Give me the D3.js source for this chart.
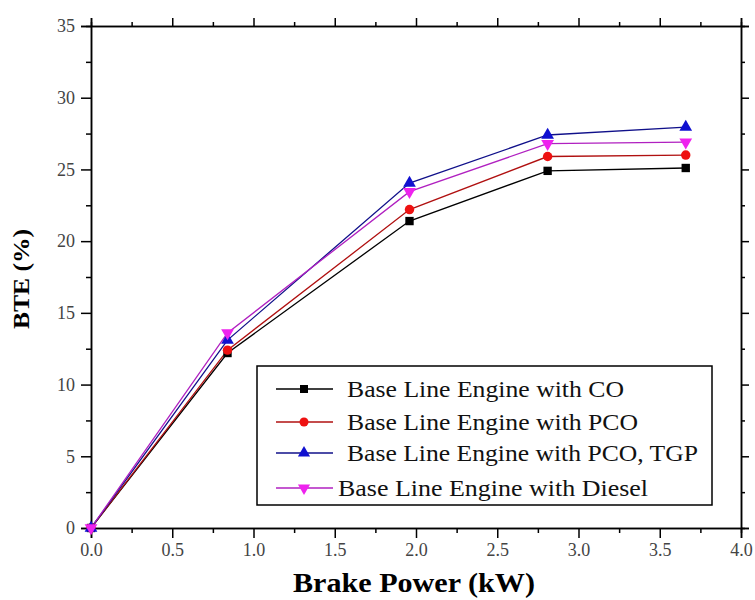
<!DOCTYPE html>
<html><head><meta charset="utf-8">
<script src="https://cdn.jsdelivr.net/npm/d3@7"></script>
<style>body{margin:0;background:#fff}svg{display:block}text{font-family:"Liberation Serif","Times New Roman",serif}</style>
</head><body>
<svg id="c" width="755" height="600"></svg>
<script>
const power = [0, 0.84, 1.96, 2.81, 3.66];
const bteCO = [0, 12.2, 21.4, 24.9, 25.1];
const btePCO = [0, 12.4, 22.2, 25.9, 26.0];
const btePCOTGP = [0, 13.1, 24.05, 27.4, 27.95];
const bteDiesel = [0, 13.6, 23.45, 26.8, 26.9];
const seriesNames = ["Base Line Engine with CO","Base Line Engine with PCO","Base Line Engine with PCO, TGP","Base Line Engine with Diesel"];
const xTicks = [0,0.5,1,1.5,2,2.5,3,3.5,4];
const yTicks = [0,5,10,15,20,25,30,35];

const colors = ["#000000","#ee1111","#1010d0","#ee22ee"];
const lineColors = ["#000000","#b01010","#10108a","#b020c0"];
const symbols = [d3.symbolSquare, d3.symbolCircle, d3.symbolTriangle, d3.symbolTriangle];
const values = [bteCO, btePCO, btePCOTGP, bteDiesel];

const svg = d3.select("#c");
const L=91,R=741,T=26,B=528;
const x = d3.scaleLinear().domain([0,4]).range([L,R]);
const y = d3.scaleLinear().domain([0,35]).range([B,T]);

const minorX = d3.range(0.25,4,0.5);
const minorY = d3.range(2.5,35,5);

function styleAxis(g){g.selectAll("path.domain").attr("stroke","#000").attr("stroke-width",1.5);
  g.selectAll(".tick line").attr("stroke","#000").attr("stroke-width",1.5);}

// bottom
const gb = svg.append("g").attr("transform",`translate(0,${B})`)
  .call(d3.axisBottom(x).tickValues(xTicks).tickSize(10).tickFormat(d3.format(".1f")).tickPadding(5));
gb.selectAll("text").attr("font-family",null).attr("font-size",18).attr("fill","#444");
styleAxis(gb);
const gbm = svg.append("g").attr("transform",`translate(0,${B})`)
  .call(d3.axisBottom(x).tickValues(minorX).tickSize(5).tickFormat(""));
styleAxis(gbm);
// left
const gl = svg.append("g").attr("transform",`translate(${L},0)`)
  .call(d3.axisLeft(y).tickValues(yTicks).tickSize(10).tickPadding(6));
gl.selectAll("text").attr("font-family",null).attr("font-size",18).attr("fill","#444");
styleAxis(gl);
const glm = svg.append("g").attr("transform",`translate(${L},0)`)
  .call(d3.axisLeft(y).tickValues(minorY).tickSize(5).tickFormat(""));
styleAxis(glm);
// top
const gt = svg.append("g").attr("transform",`translate(0,${T})`)
  .call(d3.axisTop(x).tickValues(xTicks).tickSize(8).tickFormat(""));
styleAxis(gt);
const gtm = svg.append("g").attr("transform",`translate(0,${T})`)
  .call(d3.axisTop(x).tickValues(minorX).tickSize(4).tickFormat(""));
styleAxis(gtm);
// right
const gr = svg.append("g").attr("transform",`translate(${R},0)`)
  .call(d3.axisRight(y).tickValues(yTicks).tickSize(8).tickFormat(""));
styleAxis(gr);
const grm = svg.append("g").attr("transform",`translate(${R},0)`)
  .call(d3.axisRight(y).tickValues(minorY).tickSize(4).tickFormat(""));
styleAxis(grm);

// lines
const line = d3.line().x((d,i)=>x(power[i])).y(d=>y(d));
values.forEach((vals,k)=>{
  svg.append("path").datum(vals).attr("d",line).attr("fill","none")
    .attr("stroke",lineColors[k]).attr("stroke-width",1.3);
});
function marker(k, size){ return d3.symbol().type(symbols[k]).size(size)(); }
values.forEach((vals,k)=>{
  svg.append("g").selectAll("path").data(vals).join("path")
    .attr("d",marker(k,70))
    .attr("transform",(d,i)=>`translate(${x(power[i])},${y(d)})${k===3?" rotate(180)":""}`)
    .attr("fill",colors[k]);
});

// axis titles
svg.append("text").attr("x",414).attr("y",592).attr("text-anchor","middle")
  .attr("font-weight","bold").attr("font-size",27)
  .attr("textLength",242).attr("lengthAdjust","spacingAndGlyphs")
  .text("Brake Power (kW)");
svg.append("text").attr("transform",`translate(29,${(T+B)/2+2}) rotate(-90)`).attr("text-anchor","middle")
  .attr("font-weight","bold").attr("font-size",24)
  .attr("textLength",100).attr("lengthAdjust","spacingAndGlyphs")
  .text("BTE (%)");

// legend
const lg = svg.append("g");
lg.append("rect").attr("x",257).attr("y",366).attr("width",455).attr("height",139)
  .attr("fill","#fff").attr("stroke","#000").attr("stroke-width",1.5);
const rowsY=[389,422,453,488];
const textX=[347,347,347,338];
const textW=[277,291,351,310];
seriesNames.forEach((nm,k)=>{
  lg.append("line").attr("x1",276).attr("x2",333).attr("y1",rowsY[k]).attr("y2",rowsY[k])
    .attr("stroke",lineColors[k]).attr("stroke-width",1.5);
  lg.append("path").attr("d",marker(k,64))
    .attr("transform",`translate(304,${rowsY[k]})${k===3?" rotate(180)":""}`).attr("fill",colors[k]);
  lg.append("text").attr("x",textX[k]).attr("y",rowsY[k]).attr("dy","0.35em")
    .attr("font-size",23).attr("fill","#111")
    .attr("textLength",textW[k]).attr("lengthAdjust","spacingAndGlyphs")
    .text(nm);
});
</script>
</body></html>
